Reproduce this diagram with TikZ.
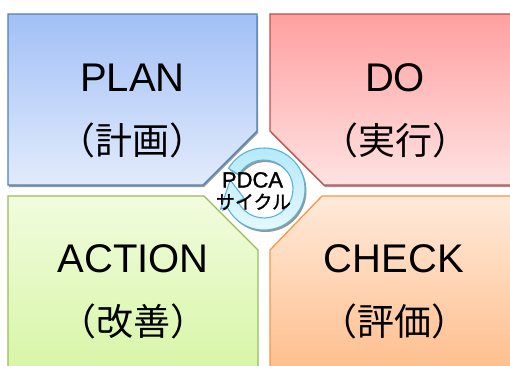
\documentclass[tikz,border=0pt]{standalone}
\usepackage{fontspec}
\setmainfont{Liberation Sans}
\newfontfamily\jpfont{Noto Sans CJK JP}
\newfontfamily\ringfont[FakeBold=1.3]{Liberation Sans}
\newfontfamily\ringjpfont[FakeBold=1.3]{Noto Sans CJK JP}
\definecolor{planTop}{RGB}{162,192,246}
\definecolor{planBot}{RGB}{226,235,252}
\definecolor{planLine}{RGB}{79,129,189}
\definecolor{doTop}{RGB}{255,160,160}
\definecolor{doBot}{RGB}{255,226,226}
\definecolor{doLine}{RGB}{192,80,77}
\definecolor{chkTop}{RGB}{255,234,218}
\definecolor{chkBot}{RGB}{255,188,138}
\definecolor{chkLine}{RGB}{247,150,70}
\definecolor{actTop}{RGB}{241,252,222}
\definecolor{actBot}{RGB}{214,245,164}
\definecolor{actLine}{RGB}{155,187,89}
\definecolor{ringTop}{RGB}{178,232,250}
\definecolor{ringBot}{RGB}{232,249,254}
\definecolor{ringLine}{RGB}{90,180,215}
\definecolor{shadowGray}{RGB}{150,150,150}
\tikzset{
  quad/.style={line width=1.3pt, line join=miter},
  shadowbox/.style={fill=shadowGray, draw=none},
  big/.style={font=\fontsize{40}{40}\selectfont, inner sep=0pt, anchor=center},
  jp/.style={font=\jpfont\fontsize{37}{37}\selectfont, inner sep=0pt, anchor=center},
  ringtext/.style={font=\ringfont\fontsize{22}{22}\selectfont, inner sep=0pt, text=black, anchor=base},
  ringjp/.style={font=\ringjpfont\fontsize{19}{19}\selectfont, inner sep=0pt, text=black, anchor=base}
}
\begin{document}
\begin{tikzpicture}[x=1pt,y=1pt]
\useasboundingbox (0,0) rectangle (510,-365);
\clip (0,0) rectangle (510,-365);
\fill[white] (0,0) rectangle (510,-365);
% shadows
\begin{scope}[shift={(1,-2.2)}]
\fill[shadowbox] (8,-14) -- (257,-14) -- (257,-131) -- (203,-185) -- (8,-185) -- cycle;
\fill[shadowbox] (270,-14) -- (520,-14) -- (520,-185) -- (324,-185) -- (270,-131) -- cycle;
\end{scope}
% PLAN
\shade[top color=planTop, bottom color=planBot, draw=planLine, quad]
  (8,-14) -- (257,-14) -- (257,-131) -- (203,-185) -- (8,-185) -- cycle;
% DO
\shade[top color=doTop, bottom color=doBot, draw=doLine, quad]
  (270,-14) -- (520,-14) -- (520,-185) -- (324,-185) -- (270,-131) -- cycle;
% ACTION
\shade[top color=actTop, bottom color=actBot, draw=actLine, quad]
  (8,-196) -- (204,-196) -- (258,-250) -- (258,-380) -- (8,-380) -- cycle;
% CHECK
\shade[top color=chkTop, bottom color=chkBot, draw=chkLine, quad]
  (322,-196) -- (520,-196) -- (520,-380) -- (270,-380) -- (270,-250) -- cycle;
% labels
\node[big] (plan) at (132.5,-77.5) {PLAN};
\node[jp] (planj) at (132.5,-140) {（計画）};
\node[big] (do) at (395,-77.5) {DO};
\node[jp] (doj) at (395,-140) {（実行）};
\node[big] (action) at (133,-258.5) {ACTION};
\node[jp] (actionj) at (133,-321) {（改善）};
\node[big] (check) at (394,-258.5) {CHECK};
\node[jp] (checkj) at (394,-321) {（評価）};
% ring arrow
\begin{scope}[shift={(265.5,-191)}]
\fill[shadowGray] (150:41) arc[start angle=150,end angle=-155,radius=41] -- (-155:48) -- (165:35) -- (-155:22) -- (-155:29) arc[start angle=-155,end angle=150,radius=29] -- cycle;
\end{scope}
\begin{scope}[shift={(264,-189)}]
\shade[top color=ringTop, bottom color=ringBot, draw=ringLine, line width=1.1pt, line join=round]
 (150:41) arc[start angle=150,end angle=-155,radius=41] -- (-155:48) -- (165:35) -- (-155:22) -- (-155:29) arc[start angle=-155,end angle=150,radius=29] -- cycle;
\end{scope}
\node[ringtext] (pdca) at (252.5,-187.5) {PDCA};
\node[ringjp] (cycle) at (253.5,-209) {サイクル};
\end{tikzpicture}
\end{document}
